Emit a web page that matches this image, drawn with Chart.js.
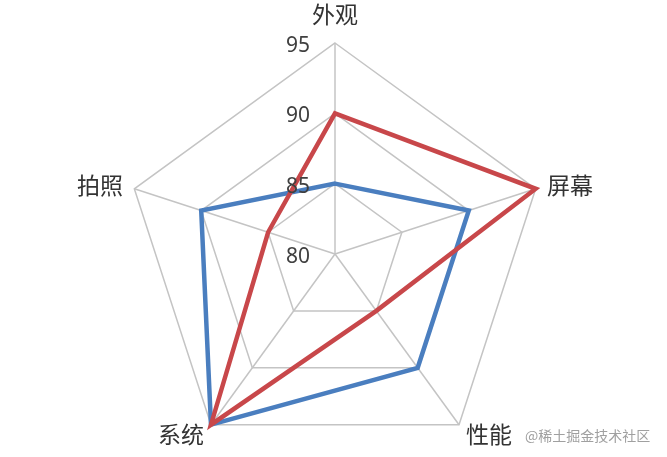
<!DOCTYPE html>
<html>
<head>
<meta charset="utf-8">
<script src="https://cdn.jsdelivr.net/npm/chart.js@4"></script>
<style>
  html, body { margin: 0; padding: 0; background: #fff; overflow: hidden; }
  #wrap { position: relative; width: 667px; height: 480px; }
  #mark {
    position: absolute; left: 525px; top: 425px;
    font: 14px "Noto Sans CJK SC", sans-serif; color: #a0a0a0; white-space: nowrap;
  }
</style>
</head>
<body>
<div id="wrap">
  <canvas id="myChart"></canvas>
  <div id="mark">@稀土掘金技术社区</div>
</div>
<script>
const categories = ['外观', '屏幕', '性能', '系统', '拍照'];
const seriesBlue = [85, 90, 90, 95, 90];
const seriesRed = [90, 95, 85, 95, 85];
const tickValues = [80, 85, 90, 95];

// tick numbers sit left of the vertical axis, point labels next to each vertex
const labelPlugin = {
    id: 'radarLabels',
    afterDraw(chart) {
        const scale = chart.scales.r;
        const ctx = chart.ctx;
        ctx.save();

        ctx.font = '21px "Noto Sans", sans-serif';
        ctx.fillStyle = '#404040';
        ctx.textAlign = 'center';
        ctx.textBaseline = 'middle';
        tickValues.forEach(v => {
            const r = scale.getDistanceFromCenterForValue(v);
            ctx.fillText(String(v), scale.xCenter - 37, scale.yCenter - r + 3);
        });

        ctx.font = '23px "Noto Sans CJK SC", sans-serif';
        ctx.fillStyle = '#333333';
        categories.forEach((label, i) => {
            const pad = i === 0 ? 29 : 12;
            const p = scale.getPointPosition(i, scale.drawingArea + pad);
            const dx = p.x - scale.xCenter;
            ctx.textAlign = Math.abs(dx) < 1 ? 'center' : (dx > 0 ? 'left' : 'right');
            ctx.fillText(label, p.x, p.y);
        });
        ctx.restore();
    }
};

const ctx = document.getElementById('myChart').getContext('2d');
const myChart = new Chart(ctx, {
    type: 'radar',
    data: {
        labels: categories,
        datasets: [
            {
                label: '系列1',
                data: seriesBlue,
                borderColor: '#4a7ebf',
                borderWidth: 4.5,
                fill: false,
                pointRadius: 0,
                tension: 0,
                order: 2
            },
            {
                label: '系列2',
                data: seriesRed,
                borderColor: '#c8474a',
                borderWidth: 4.5,
                fill: false,
                pointRadius: 0,
                tension: 0,
                order: 1
            }
        ]
    },
    options: {
        responsive: true,
        maintainAspectRatio: false,
        animation: false,
        layout: {
            padding: { top: 43, bottom: 15, left: 124, right: 121 }
        },
        scales: {
            r: {
                min: 80,
                max: 95,
                ticks: { stepSize: 5, display: false },
                grid: { color: '#c4c4c4', lineWidth: 1.5 },
                angleLines: { color: '#c4c4c4', lineWidth: 1.5 },
                pointLabels: { display: false }
            }
        },
        plugins: {
            legend: { display: false },
            tooltip: { enabled: false }
        }
    },
    plugins: [labelPlugin]
});
</script>
</body>
</html>
